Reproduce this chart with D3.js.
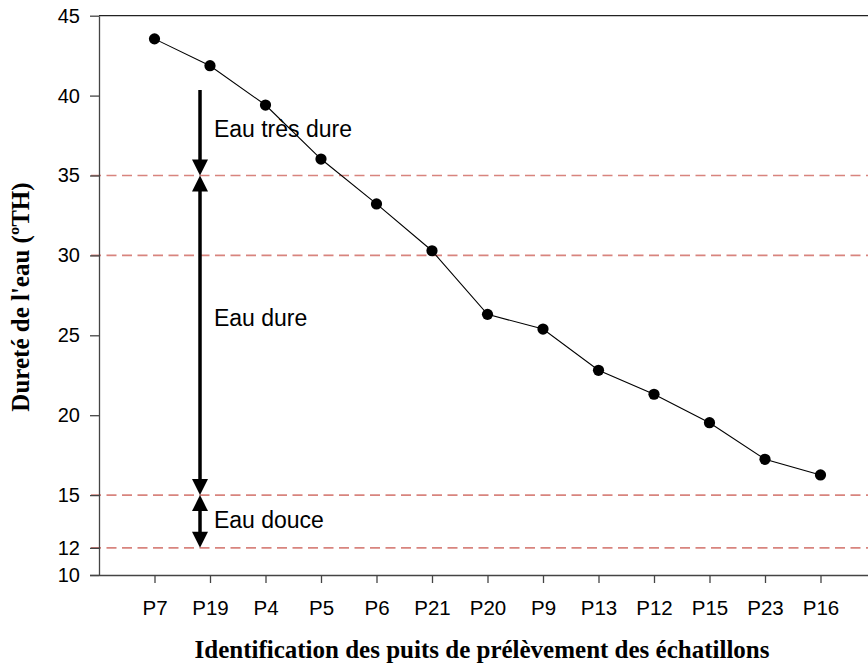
<!DOCTYPE html>
<html><head><meta charset="utf-8">
<script src="https://cdn.jsdelivr.net/npm/d3@7/dist/d3.min.js"></script>
<style>html,body{margin:0;padding:0;background:#fff;}</style>
</head><body>
<svg id="chart" width="868" height="669"></svg>
<script>
const categories = ["P7","P19","P4","P5","P6","P21","P20","P9","P13","P12","P15","P23","P16"];
const hardness = [43.55, 41.87, 39.41, 36.03, 33.22, 30.29, 26.31, 25.39, 22.81, 21.31, 19.53, 17.24, 16.26];
const yTickValues = [10, 11.7, 15, 20, 25, 30, 35, 40, 45];
const yTickLabels = ["10", "12", "15", "20", "25", "30", "35", "40", "45"];
const thresholds = [35, 30, 15, 11.7];
const zoneLabels = ["Eau très dure", "Eau dure", "Eau douce"];
const zoneFrom = [40.35, 35, 15];
const zoneTo = [35, 15, 11.7];
const zoneDoubleHeaded = [false, true, true];
const zoneLabelY = [37.9, 26.1, 13.45];
const xTitle = "Identification des puits de prélèvement des échatillons";
const yTitle = "Dureté de l'eau (ºTH)";

const svg = d3.select("#chart");
const mLeft = 99, mTop = 15.7, mBottom = 575, step = 55.5;
const x = d3.scaleLinear().domain([0, 14]).range([mLeft, mLeft + 14 * step]);
const y = d3.scaleLinear().domain([10, 45]).range([mBottom, mTop]);

// threshold dashed lines
svg.selectAll("line.thr").data(thresholds).join("line")
  .attr("x1", mLeft - 8).attr("x2", 868)
  .attr("y1", d => y(d)).attr("y2", d => y(d))
  .attr("stroke", "#d8847e").attr("stroke-width", 1.6)
  .attr("stroke-dasharray", "10,5.5");

// top frame line
svg.append("line").attr("x1", mLeft).attr("x2", 868)
  .attr("y1", y(45)).attr("y2", y(45)).attr("stroke", "#222").attr("stroke-width", 1.3);

// y axis
const yAxis = d3.axisLeft(y).tickValues(yTickValues)
  .tickFormat((d, i) => yTickLabels[i]).tickSizeInner(9).tickSizeOuter(0).tickPadding(10);
const gy = svg.append("g").attr("transform", `translate(${mLeft},0)`).call(yAxis);
gy.select(".domain").attr("stroke", "#444").attr("stroke-width", 1.3);
gy.selectAll(".tick line").attr("stroke", "#444").attr("stroke-width", 1.3);
gy.selectAll(".tick text").attr("font-family", "Liberation Sans, Arial, sans-serif")
  .attr("font-size", 20).attr("fill", "#000");

// x axis
const idx = categories.map((c, i) => i + 1);
const xAxis = d3.axisBottom(x).tickValues(idx)
  .tickFormat((d) => categories[d - 1]).tickSizeInner(8).tickSizeOuter(0).tickPadding(17);
const gx = svg.append("g").attr("transform", `translate(0,${mBottom})`).call(xAxis);
gx.select(".domain").attr("stroke", "#444").attr("stroke-width", 1.3)
  .attr("d", `M${mLeft - 9},0.5H868`);
gx.selectAll(".tick line").attr("stroke", "#444").attr("stroke-width", 1.3);
gx.selectAll(".tick text").attr("font-family", "Liberation Sans, Arial, sans-serif")
  .attr("font-size", 20.5).attr("fill", "#000");

// line + markers
const pts = hardness.map((v, i) => [x(i + 1), y(v)]);
svg.append("path").attr("d", d3.line()(pts)).attr("fill", "none")
  .attr("stroke", "#000").attr("stroke-width", 1.1);
svg.selectAll("circle.pt").data(hardness).join("circle")
  .attr("cx", (d, i) => x(i + 1)).attr("cy", d => y(d)).attr("r", 5.6).attr("fill", "#000");

// zone arrows
const ax = x(1.82), hw = 8, hh = 16;
function head(tipY, dir) { // dir: +1 pointing down, -1 pointing up
  return `M${ax},${tipY} L${ax - hw},${tipY - dir * hh} L${ax + hw},${tipY - dir * hh} Z`;
}
zoneLabels.forEach((lab, i) => {
  const y1 = y(zoneFrom[i]), y2 = y(zoneTo[i]);
  svg.append("line").attr("x1", ax).attr("x2", ax)
    .attr("y1", zoneDoubleHeaded[i] ? y1 + hh - 2 : y1).attr("y2", y2 - hh + 2)
    .attr("stroke", "#000").attr("stroke-width", 3.5);
  svg.append("path").attr("d", head(y2, 1)).attr("fill", "#000");
  if (zoneDoubleHeaded[i]) svg.append("path").attr("d", head(y1, -1)).attr("fill", "#000");
  svg.append("text").attr("x", x(2.07)).attr("y", y(zoneLabelY[i]))
    .attr("dominant-baseline", "central")
    .attr("font-family", "Liberation Sans, Arial, sans-serif").attr("font-size", 23)
    .text(lab);
});

// titles
svg.append("text").attr("x", 482).attr("y", 658).attr("text-anchor", "middle")
  .attr("font-family", "Liberation Serif, Times New Roman, serif").attr("font-weight", "bold")
  .attr("font-size", 25).text(xTitle);
svg.append("text").attr("transform", "translate(29,297) rotate(-90)").attr("text-anchor", "middle")
  .attr("font-family", "Liberation Serif, Times New Roman, serif").attr("font-weight", "bold")
  .attr("font-size", 25).text(yTitle);
</script>
</body></html>
